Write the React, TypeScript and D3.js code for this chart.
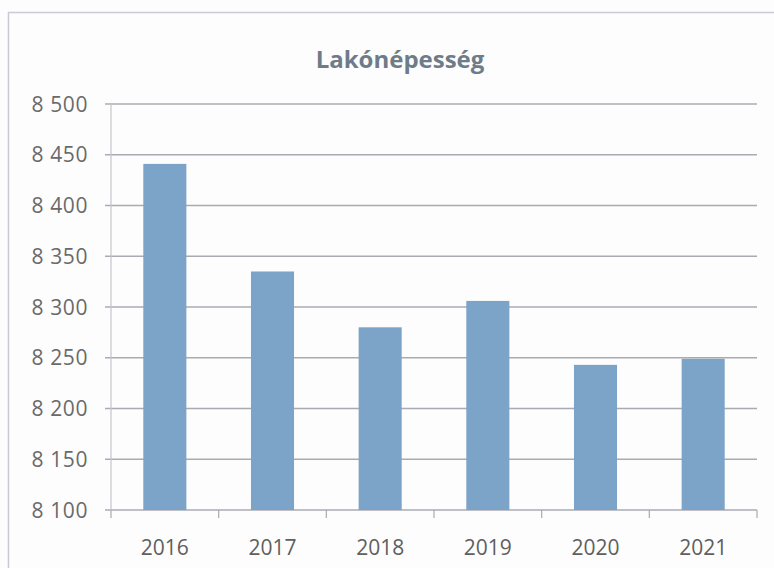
import React from 'react';
import * as d3 from 'd3';

const years = ['2016', '2017', '2018', '2019', '2020', '2021'];
const population = [8441, 8335, 8280, 8306, 8243, 8249];
const yTicks = [8100, 8150, 8200, 8250, 8300, 8350, 8400, 8450, 8500];
const chartTitle = 'Lakónépesség';

const W = 774;
const H = 568;
const margin = { top: 104, right: 17, bottom: 58, left: 111 };

const App: React.FC = () => {
  const innerW = W - margin.left - margin.right;
  const innerH = H - margin.top - margin.bottom;

  const x = d3.scaleBand<string>().domain(years).range([0, innerW]).paddingInner(0.6).paddingOuter(0.3);
  const xCat = d3.scaleBand<string>().domain(years).range([0, innerW]).padding(0);
  const y = d3.scaleLinear().domain([8100, 8500]).range([innerH, 0]);

  const fmt = (v: number) => d3.format(',')(v).replace(/,/g, ' ');
  const font = '"Open Sans", Lato, sans-serif';

  return (
    <svg
      width={W}
      height={H}
      style={{ position: 'absolute', left: 0, top: 0, background: '#fdfdfd' }}
    >
      {/* frame */}
      <line x1={8} x2={W} y1={12.5} y2={12.5} stroke="#c9ccd4" strokeWidth={1.5} />
      <line x1={8.5} x2={8.5} y1={12} y2={H} stroke="#c9ccd4" strokeWidth={1.5} />

      <text
        x={400}
        y={68}
        textAnchor="middle"
        fontFamily={font}
        fontWeight={700}
        fontSize={24}
        fill="#6e7c8a"
      >
        {chartTitle}
      </text>

      <g transform={`translate(${margin.left},${margin.top})`}>
        {yTicks.map((t) => (
          <g key={t}>
            <line x1={-6} x2={innerW} y1={y(t)} y2={y(t)} stroke="#a9abb2" strokeWidth={1.3} />
            <text
              x={-23}
              y={y(t)}
              dy="0.36em"
              textAnchor="end"
              fontFamily={font}
              fontSize={21}
              letterSpacing={0.6}
              fill="#6a6a6a"
            >
              {fmt(t)}
            </text>
          </g>
        ))}
        <line x1={0} x2={0} y1={0} y2={innerH} stroke="#c4c6cc" strokeWidth={1.2} />
        {years.map((yr) => (
          <line
            key={'tk' + yr}
            x1={(xCat(yr) ?? 0) + xCat.bandwidth()}
            x2={(xCat(yr) ?? 0) + xCat.bandwidth()}
            y1={innerH}
            y2={innerH + 8}
            stroke="#a9abb2"
            strokeWidth={1.2}
          />
        ))}
        <line x1={0} x2={0} y1={innerH} y2={innerH + 8} stroke="#a9abb2" strokeWidth={1.2} />
        {years.map((yr, i) => (
          <rect
            key={yr}
            x={x(yr)}
            y={y(population[i])}
            width={x.bandwidth()}
            height={innerH - y(population[i])}
            fill="#7ca4c8"
          />
        ))}
        {years.map((yr) => (
          <text
            key={'l' + yr}
            x={(xCat(yr) ?? 0) + xCat.bandwidth() / 2}
            y={innerH + 45}
            textAnchor="middle"
            fontFamily={font}
            fontSize={21}
            fill="#5f5f5f"
          >
            {yr}
          </text>
        ))}
      </g>
    </svg>
  );
};

export default App;
